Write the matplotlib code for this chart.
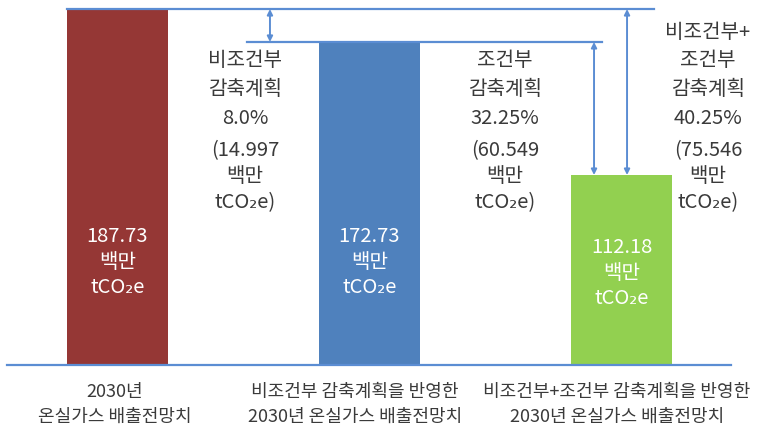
import matplotlib
matplotlib.use("Agg")
import matplotlib.pyplot as plt

plt.rcParams['font.family'] = ['Noto Sans CJK KR', 'DejaVu Sans']

# data
categories = ["2030년\n온실가스 배출전망치",
              "비조건부 감축계획을 반영한\n2030년 온실가스 배출전망치",
              "비조건부+조건부 감축계획을 반영한\n2030년 온실가스 배출전망치"]
values = [187.73, 172.73, 112.18]
reduction_names = ["비조건부\n감축계획", "조건부\n감축계획", "비조건부+\n조건부\n감축계획"]
reduction_pct = ["8.0%", "32.25%", "40.25%"]
reduction_amt = ["14.997", "60.549", "75.546"]

colors = ["#953735", "#4F81BD", "#92D050"]
line_color = "#5B8DD3"
text_color = "#3a3a3a"
BASE = 25.7  # value drawn at the baseline (schematic chart)

W, H = 758, 427
fig = plt.figure(figsize=(W / 100, H / 100), dpi=100)
ax = fig.add_axes([0, 0, 1, 1])
ax.set_xlim(-117.5 / 252, (W - 117.5) / 252)
ax.set_ylim(BASE - 61 / 2.197, BASE + 366 / 2.197)
ax.axis("off")

x = [0, 1, 2]
ax.bar(x, [v - BASE for v in values], bottom=BASE, width=0.4, color=colors, zorder=2)

# baseline and reference lines
ax.plot([-0.44, 2.434], [BASE, BASE], color=line_color, lw=1.6, zorder=3)
ax.plot([-0.2, 2.129], [values[0], values[0]], color=line_color, lw=1.6, zorder=3)
ax.plot([0.514, 1.923], [values[1], values[1]], color=line_color, lw=1.6, zorder=3)

# double arrows
arrow_kw = dict(arrowstyle="<|-|>", color=line_color, lw=1.4, mutation_scale=8,
                shrinkA=0, shrinkB=0)
ax.annotate("", xy=(0.605, values[0]), xytext=(0.605, values[1]), arrowprops=arrow_kw)
ax.annotate("", xy=(1.891, values[1]), xytext=(1.891, values[2]), arrowprops=arrow_kw)
ax.annotate("", xy=(2.022, values[0]), xytext=(2.022, values[2]), arrowprops=arrow_kw)


def fx(px):
    return px / W


def fy(py):
    return 1 - py / H


fs_big = 14.5
fs_cat = 13
# labels inside bars
inside_y = [237, 237, 248]
for i, v in enumerate(values):
    cx = 117.5 + 252 * i
    y0 = inside_y[i]
    for j, t in enumerate([f"{v:.2f}", "백만", "tCO₂e"]):
        fig.text(fx(cx), fy(y0 + 25.5 * j), t, color="white", fontsize=fs_big,
                 ha="center", va="center")

# reduction labels
label_x = [245, 505, 708]
for i in range(3):
    lines = reduction_names[i].split("\n") + [reduction_pct[i]]
    n = len(lines)
    for j, t in enumerate(lines):
        yy = 118 - 28.5 * (n - 1 - j)
        fig.text(fx(label_x[i]), fy(yy), t, color=text_color, fontsize=fs_big,
                 ha="center", va="center")
    for j, t in enumerate(["(" + reduction_amt[i], "백만", "tCO₂e)"]):
        fig.text(fx(label_x[i]), fy(151 + 26 * j), t, color=text_color, fontsize=fs_big,
                 ha="center", va="center")

# category labels
cat_x = [115, 355, 617]
for i, c in enumerate(categories):
    for j, t in enumerate(c.split("\n")):
        fig.text(fx(cat_x[i]), fy(392 + 25 * j), t, color=text_color, fontsize=fs_cat,
                 ha="center", va="center")

fig.savefig("out.png", dpi=100)
